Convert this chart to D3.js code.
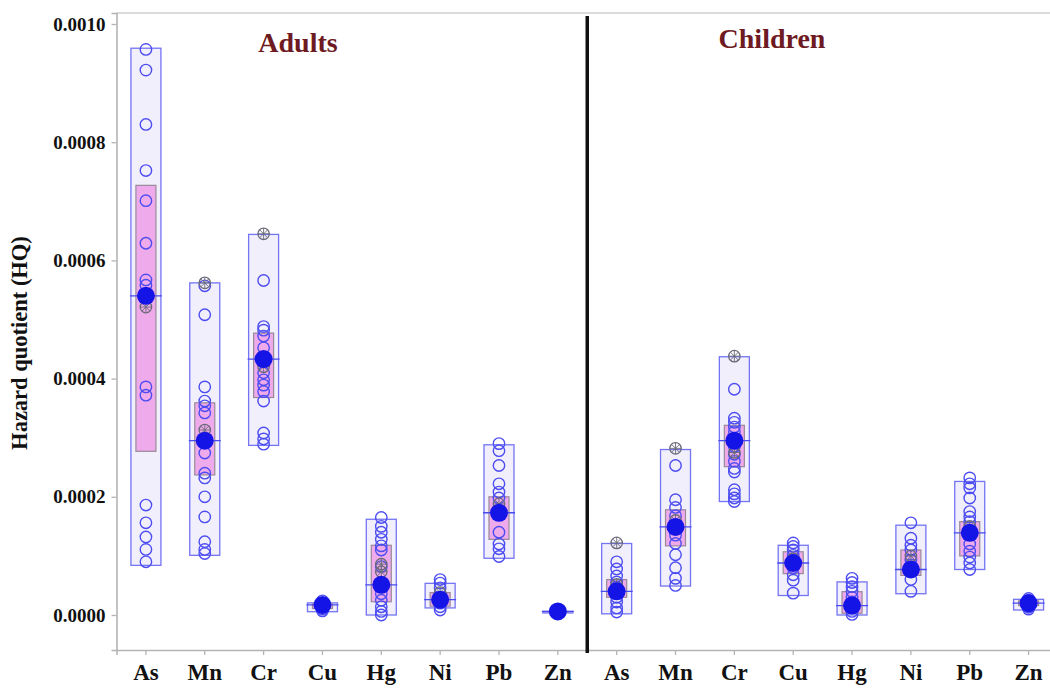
<!DOCTYPE html>
<html>
<head>
<meta charset="utf-8">
<script src="https://cdn.jsdelivr.net/npm/d3@7/dist/d3.min.js"></script>
<style>
  html, body { margin: 0; padding: 0; background: #fff; }
  svg { display: block; }
  text { font-family: "Liberation Serif", "Times New Roman", serif; font-weight: bold; }
</style>
</head>
<body>
<svg id="chart" width="1050" height="692"></svg>
<script>
// Population groups and metals
const groups = ["Adults", "Children"];
const metals = ["As", "Mn", "Cr", "Cu", "Hg", "Ni", "Pb", "Zn"];
const yTicks = [0, 0.0002, 0.0004, 0.0006, 0.0008, 0.0010];

// Individual HQ observations (open circles), per metal
const adultValues = [
  [0.000957, 0.000922, 0.00083, 0.000752, 0.000701, 0.000629, 0.000567, 0.000558, 0.000386, 0.000372, 0.000186, 0.000156, 0.000132, 0.000111, 0.00009],
  [0.000557, 0.000508, 0.000386, 0.000362, 0.000354, 0.000342, 0.000274, 0.00024, 0.000232, 0.0002, 0.000166, 0.000124, 0.000111, 0.000104],
  [0.000566, 0.000488, 0.000482, 0.000472, 0.000452, 0.00041, 0.000398, 0.000389, 0.000378, 0.000362, 0.000308, 0.000298, 0.000289],
  [0.000024, 0.00002, 0.000018, 0.000016, 0.000013, 0.00001, 0.000007],
  [0.000165, 0.00015, 0.00014, 0.000128, 0.000117, 0.00011, 0.000082, 0.000036, 0.000025, 0.000014, 0.000006, 0.0],
  [0.00006, 0.000054, 0.000046, 0.00003, 0.00002, 0.000014, 0.0000085],
  [0.00029, 0.000278, 0.000253, 0.000222, 0.000208, 0.000198, 0.00014, 0.00012, 0.000112, 0.000099],
  [0.000008, 0.000007, 0.000006, 0.000005, 0.000004]
];
const childValues = [
  [0.00009, 0.000078, 0.000066, 0.000056, 0.000047, 0.00003, 0.000022, 0.000012, 0.000005],
  [0.000253, 0.000195, 0.000182, 0.000168, 0.000135, 0.000121, 0.000102, 0.00008, 0.000062, 0.00005],
  [0.000382, 0.000333, 0.000326, 0.000318, 0.00031, 0.000285, 0.000272, 0.00026, 0.000248, 0.000242, 0.000212, 0.000205, 0.000198, 0.000192],
  [0.000122, 0.000116, 0.00011, 0.000101, 0.000093, 0.00008, 0.000068, 0.000059, 0.000037],
  [0.000062, 0.000055, 0.000048, 0.00004, 0.00003, 0.000022, 0.000012, 0.000006, 0.000001],
  [0.000156, 0.00013, 0.000118, 0.00011, 0.000093, 0.000085, 0.00006, 0.00004],
  [0.000232, 0.000222, 0.000215, 0.000198, 0.000175, 0.000166, 0.000158, 0.00012, 0.000108, 0.000098, 0.000088, 0.000077],
  [0.000028, 0.000025, 0.000023, 0.000021, 0.000019, 0.000016, 0.000013, 0.00001]
];

// Flagged observations (grey crossed markers)
const adultFlagged = [[0.000521], [0.000562, 0.000313], [0.000645, 0.00042], [], [0.000086, 0.000073], [0.000038], [0.000188], []];
const childFlagged = [[0.000122, 0.000052], [0.000282, 0.00016], [0.000438, 0.000275], [0.000095], [0.00002], [0.0001], [0.00015], []];

// Full range (outer box), interquartile box and mean for each metal
const adultRange = [[0.000084, 0.000959], [0.000101, 0.000562], [0.000287, 0.000644], [0.0000056, 0.0000205], [0.0, 0.000162], [0.000012, 0.0000536], [0.000096, 0.000288], [0.000006, 0.000006]];
const childRange = [[0.000002, 0.000121], [0.000049, 0.00028], [0.000192, 0.000437], [0.000033, 0.000118], [0.0, 0.000056], [0.000036, 0.000152], [0.000077, 0.000226], [0.0000085, 0.0000265]];
const adultIQR = [[0.000277, 0.000727], [0.000237, 0.000359], [0.000368, 0.000477], [0.000011, 0.000019], [0.0000225, 0.000118], [0.000015, 0.000038], [0.000128, 0.0002], [0.000006, 0.000006]];
const childIQR = [[0.00003, 0.00006], [0.000117, 0.000178], [0.000251, 0.000321], [0.00007, 0.000107], [0.000003, 0.0000395], [0.000067, 0.00011], [0.0001, 0.000158], [0.000016, 0.000024]];
const adultMean = [0.00054, 0.000295, 0.000433, 0.000017, 0.000051, 0.000026, 0.000173, 0.000006];
const childMean = [0.00004, 0.000149, 0.000295, 0.000088, 0.000016, 0.000077, 0.000139, 0.00002];

const rows = [];
groups.forEach((g, gi) => {
  const vals = gi === 0 ? adultValues : childValues;
  const flag = gi === 0 ? adultFlagged : childFlagged;
  const rng = gi === 0 ? adultRange : childRange;
  const iqr = gi === 0 ? adultIQR : childIQR;
  const mean = gi === 0 ? adultMean : childMean;
  metals.forEach((m, mi) => {
    rows.push({ key: g + "-" + m, group: g, metal: m, values: vals[mi], flagged: flag[mi],
      lo: rng[mi][0], hi: rng[mi][1], q1: iqr[mi][0], q3: iqr[mi][1], mean: mean[mi] });
  });
});

const svg = d3.select("#chart");
const plotLeft = 116.5, plotRight = 1058, plotTop = 13, plotBottom = 650;

const x = d3.scaleBand().domain(rows.map(d => d.key)).range([plotLeft, plotRight]).padding(0);
const y = d3.scaleLinear().domain([-0.0000592, 0.0010186]).range([plotBottom, plotTop]);

// Frame: top border, left and bottom axes
svg.append("line").attr("x1", plotLeft).attr("x2", 1050).attr("y1", plotTop).attr("y2", plotTop)
  .attr("stroke", "#cfcfcf").attr("stroke-width", 1.5);

const yAxis = svg.append("g").attr("transform", `translate(${plotLeft},0)`)
  .call(d3.axisLeft(y).tickValues(yTicks).tickFormat(d3.format(".4f")).tickSize(5).tickPadding(6));
const xAxis = svg.append("g").attr("transform", `translate(0,${plotBottom})`)
  .call(d3.axisBottom(x).tickFormat(k => k.split("-")[1]).tickSize(5).tickPadding(9));
[yAxis, xAxis].forEach(a => {
  a.select(".domain").attr("stroke", "#b4b4b4").attr("stroke-width", 1.6);
  a.selectAll(".tick line").attr("stroke", "#b4b4b4").attr("stroke-width", 1.3);
  a.selectAll(".tick text").attr("fill", "#111").style("font-family", '"Liberation Serif", serif').style("font-weight", "bold");
});
yAxis.selectAll(".tick text").style("font-size", "19px");
xAxis.selectAll(".tick text").style("font-size", "23px");

// Y axis title
svg.append("text").attr("transform", "translate(27,343) rotate(-90)")
  .attr("text-anchor", "middle").style("font-size", "22.5px").attr("fill", "#111")
  .text("Hazard quotient (HQ)");

// Group labels
svg.append("text").attr("x", 298).attr("y", 52).attr("text-anchor", "middle")
  .style("font-size", "28px").attr("fill", "#6e1a22").text(groups[0]);
svg.append("text").attr("x", 772).attr("y", 48).attr("text-anchor", "middle")
  .style("font-size", "28px").attr("fill", "#6e1a22").text(groups[1]);

// Boxes
const outerW = 30, innerW = 20;
const cat = svg.append("g").selectAll("g").data(rows).join("g")
  .attr("transform", d => `translate(${x(d.key) + x.bandwidth() / 2},0)`);

cat.append("rect")
  .attr("x", -outerW / 2).attr("width", outerW)
  .attr("y", d => y(d.hi)).attr("height", d => Math.max(1.5, y(d.lo) - y(d.hi)))
  .attr("fill", "#f1effb").attr("stroke", "#7474f4").attr("stroke-width", 1.3);

cat.append("rect")
  .attr("x", -innerW / 2).attr("width", innerW)
  .attr("y", d => y(d.q3)).attr("height", d => Math.max(0.5, y(d.q1) - y(d.q3)))
  .attr("fill", "#eeaaea").attr("stroke", "#9a8a98").attr("stroke-width", 1.2);

cat.append("line")
  .attr("x1", -outerW / 2 - 1).attr("x2", outerW / 2 + 1)
  .attr("y1", d => y(d.mean)).attr("y2", d => y(d.mean))
  .attr("stroke", "#4a4af0").attr("stroke-width", 1.3);

cat.selectAll("circle.obs").data(d => d.values).join("circle")
  .attr("class", "obs").attr("cx", 0).attr("cy", v => y(v)).attr("r", 5.7)
  .attr("fill", "none").attr("stroke", "#4c4cf2").attr("stroke-width", 1.4);

const flagG = cat.selectAll("g.flag").data(d => d.flagged).join("g")
  .attr("class", "flag").attr("transform", v => `translate(0,${y(v)})`);
flagG.append("circle").attr("r", 5.7).attr("fill", "none").attr("stroke", "#6a6a78").attr("stroke-width", 1.3);
flagG.append("path").attr("d", "M-5.5,0H5.5M0,-5.5V5.5M-3.8,-3.8L3.8,3.8M-3.8,3.8L3.8,-3.8")
  .attr("stroke", "#6a6a78").attr("stroke-width", 0.9);

cat.append("circle").attr("cx", 0).attr("cy", d => y(d.mean)).attr("r", 9)
  .attr("fill", "#1414e6");

// Divider between the two groups
const divX = x(rows[8].key);
svg.append("line").attr("x1", divX).attr("x2", divX).attr("y1", 16).attr("y2", 653)
  .attr("stroke", "#111").attr("stroke-width", 3.5);
</script>
</body>
</html>
